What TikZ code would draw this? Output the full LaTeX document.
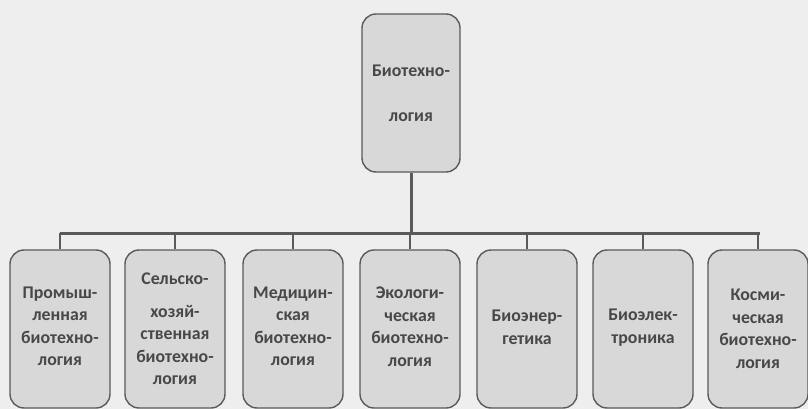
\documentclass[tikz,border=0pt]{standalone}
\usepackage{fontspec}
\setmainfont{Carlito}
\definecolor{bg}{HTML}{EEEEEE}
\definecolor{boxfill}{HTML}{D8D8D8}
\definecolor{boxline}{HTML}{5A5A5A}
\definecolor{txt}{HTML}{484848}
\begin{document}
\begin{tikzpicture}[x=1pt,y=-1pt,
  bbox/.style={draw=boxline, line width=1.4pt, fill=boxfill, rounded corners=14pt,
    minimum width=100pt, minimum height=158pt, text width=98pt, align=center,
    inner sep=0pt, font=\bfseries\fontsize{17.8}{22.5}\selectfont, text=txt},
  conn/.style={draw=boxline, line width=3pt}]
\fill[bg] (0,0) rectangle (808,409);
\useasboundingbox (0,0) rectangle (808,409);
\node[bbox, minimum width=98pt, font=\bfseries\fontsize{17.8}{45}\selectfont] (top) at (411,93) {Биотехно-\\логия};
\node[bbox] (b1) at (60,329) {Промыш-\\ленная\\биотехно-\\логия\vspace*{5pt}};
\node[bbox] (b2) at (175,329) {\vspace*{10pt}Сельско-\\хозяй-\\ственная\\биотехно-\\логия};
\node[bbox] (b3) at (293,329) {Медицин-\\ская\\биотехно-\\логия\vspace*{5pt}};
\node[bbox] (b4) at (410,329) {Экологи-\\ческая\\биотехно-\\логия\vspace*{5pt}};
\node[bbox] (b5) at (527,329) {Биоэнер-\\гетика\vspace*{3pt}};
\node[bbox] (b6) at (643,329) {Биоэлек-\\троника\vspace*{3pt}};
\node[bbox] (b7) at (758,329) {Косми-\\ческая\\биотехно-\\логия};
\coordinate (hl) at (60,233);
\coordinate (hr) at (760,233);
\coordinate (hm) at (top.south |- hl);
\draw[conn] (hl) -- (hr);
\draw[conn] (top.south) -- (hm);
\foreach \b in {b1,b2,b3,b4,b5,b6,b7}{
  \draw[conn, line width=2.5pt] (\b.north |- hl) -- (\b.north);
}
\end{tikzpicture}
\end{document}
